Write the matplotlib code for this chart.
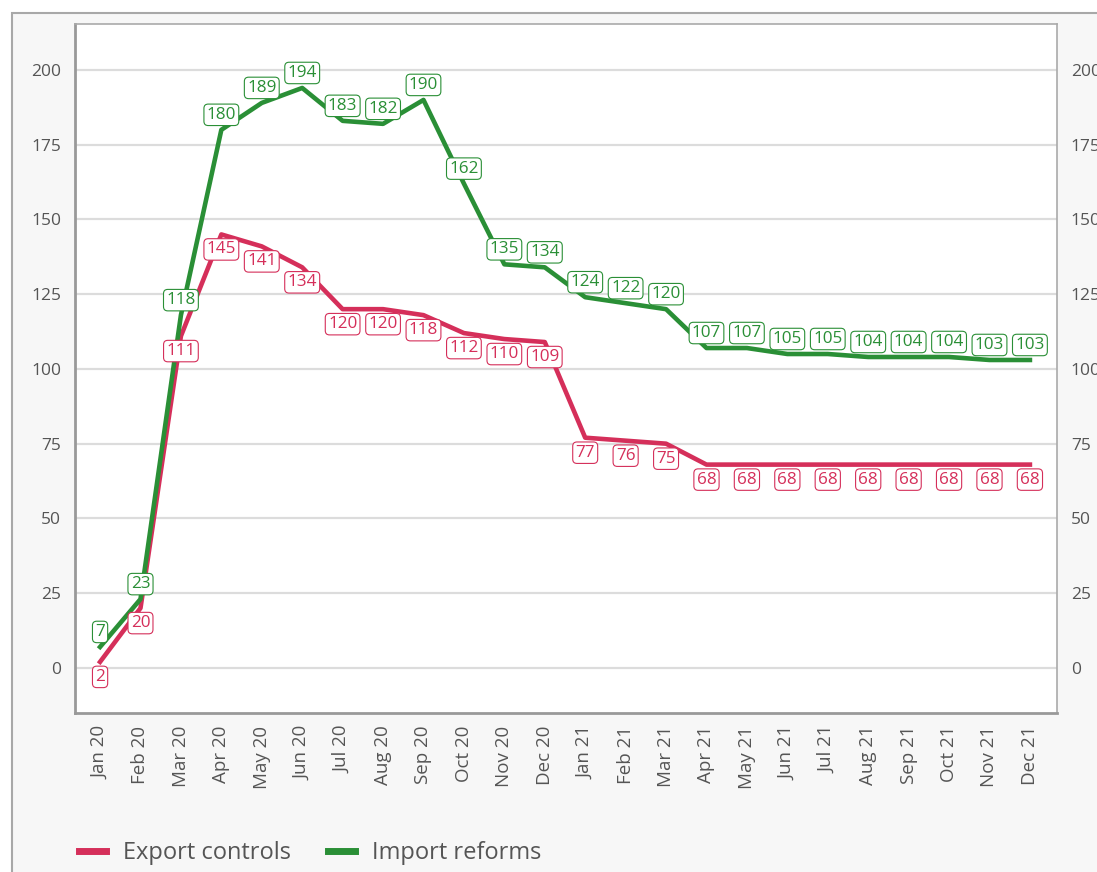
# Export controls vs import reforms, monthly counts 2020-2021

import numpy as np
import matplotlib.pyplot as plt
from matplotlib.patches import Rectangle
from matplotlib.lines import Line2D

plt.rcParams['font.family'] = ['Open Sans', 'DejaVu Sans']

# Data
months = ['Jan 20', 'Feb 20', 'Mar 20', 'Apr 20', 'May 20', 'Jun 20',
          'Jul 20', 'Aug 20', 'Sep 20', 'Oct 20', 'Nov 20', 'Dec 20',
          'Jan 21', 'Feb 21', 'Mar 21', 'Apr 21', 'May 21', 'Jun 21',
          'Jul 21', 'Aug 21', 'Sep 21', 'Oct 21', 'Nov 21', 'Dec 21']
export_controls = [2, 20, 111, 145, 141, 134, 120, 120, 118, 112, 110, 109,
                   77, 76, 75, 68, 68, 68, 68, 68, 68, 68, 68, 68]
import_reforms = [7, 23, 118, 180, 189, 194, 183, 182, 190, 162, 135, 134,
                  124, 122, 120, 107, 107, 105, 105, 104, 104, 104, 103, 103]
y_ticks = [0, 25, 50, 75, 100, 125, 150, 175, 200]

red = '#d52f5a'
green = '#2a8f36'
tick_col = '#555555'

W, H = 1097, 872
fig = plt.figure(figsize=(W / 100, H / 100), dpi=100)
fig.patch.set_facecolor('white')

# light panel with border behind everything
fig.patches.append(Rectangle((12 / W, -0.1), 1.2, (H - 13) / H + 0.1, transform=fig.transFigure,
                             facecolor='#f7f7f7', edgecolor='#a8a8a8', linewidth=1.5,
                             zorder=-10))

ax = fig.add_axes([75 / W, (H - 713) / H, (1057 - 75) / W, (713 - 24) / H])
ax.set_facecolor('white')

x = np.arange(len(months))
ax.plot(x, export_controls, color=red, lw=3.3, solid_joinstyle='round', zorder=3)
ax.plot(x, import_reforms, color=green, lw=3.3, solid_joinstyle='round', zorder=3)

# value labels: green above point, red below point
lab_fs = 12.3
for i, v in enumerate(export_controls):
    ax.annotate(str(v), (i, v), xytext=(0, -15), textcoords='offset pixels',
                ha='center', va='center', fontsize=lab_fs, color=red, zorder=5,
                bbox=dict(boxstyle='round,pad=0.16,rounding_size=0.25', fc='white', ec=red, lw=0.8))
for i, v in enumerate(import_reforms):
    ax.annotate(str(v), (i, v), xytext=(0, 15), textcoords='offset pixels',
                ha='center', va='center', fontsize=lab_fs, color=green, zorder=5,
                bbox=dict(boxstyle='round,pad=0.16,rounding_size=0.25', fc='white', ec=green, lw=0.8))

ax.set_xlim(-0.62, 23.67)
ax.set_ylim(-15.1, 215.4)
ax.set_xticks(x)
ax.set_xticklabels(months, rotation=90, color=tick_col, fontsize=13.5)
ax.set_yticks(y_ticks)
ax.tick_params(axis='y', length=0, labelsize=12.5, labelcolor=tick_col, pad=10)
ax.tick_params(axis='x', length=0, labelcolor=tick_col, pad=9)
ax.grid(axis='y', color='#dcdcdc', lw=1.6)
ax.set_axisbelow(True)

for s in ['left', 'bottom']:
    ax.spines[s].set_color('#999999')
    ax.spines[s].set_linewidth(2)
for s in ['top', 'right']:
    ax.spines[s].set_color('#aaaaaa')
    ax.spines[s].set_linewidth(1.2)

# right hand copy of the y labels
ax2 = ax.twinx()
ax2.set_ylim(ax.get_ylim())
ax2.set_yticks(y_ticks)
ax2.tick_params(axis='y', length=0, labelsize=12.5, labelcolor=tick_col, pad=10)
for s in ax2.spines.values():
    s.set_visible(False)

# legend
handles = [Line2D([], [], color=red, lw=5), Line2D([], [], color=green, lw=5)]
fig.legend(handles, ['Export controls', 'Import reforms'], loc='center left',
           bbox_to_anchor=(58 / W, (H - 853) / H), ncol=2, frameon=False,
           fontsize=17, labelcolor='#555555', handlelength=1.14, handletextpad=0.72,
           columnspacing=1.55)

plt.savefig('out.png', dpi=100, facecolor=fig.get_facecolor())
